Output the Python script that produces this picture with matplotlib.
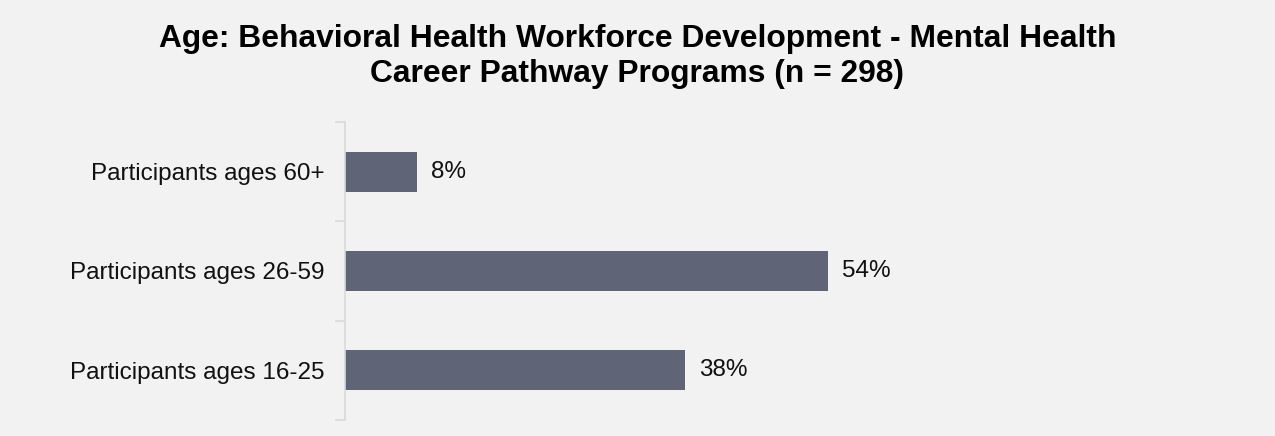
import matplotlib.pyplot as plt

plt.rcParams['font.family'] = ['Liberation Sans', 'DejaVu Sans']

# data
categories = ["Participants ages 16-25", "Participants ages 26-59", "Participants ages 60+"]
values = [38, 54, 8]
title = "Age: Behavioral Health Workforce Development - Mental Health\nCareer Pathway Programs (n = 298)"

bg = "#F2F2F2"
bar_color = "#5F6476"
line_color = "#D9D9D9"

fig = plt.figure(figsize=(12.75, 4.36), dpi=100, facecolor=bg)
ax = fig.add_axes([0.2706, 0.0367, 0.7012, 0.6835], facecolor=bg)

pos = range(len(categories))
ax.barh(pos, values, height=0.4, color=bar_color)
for p, v in zip(pos, values):
    ax.text(v + 1.6, p, f"{v}%", va="center", ha="left", fontsize=17.5, color="#111111")

ax.set_xlim(0, 100)
ax.set_ylim(-0.5, len(categories) - 0.5)
ax.set_yticks(list(pos))
ax.set_yticklabels(categories, fontsize=17.5, color="#111111")
ax.set_yticks([-0.5, 0.5, 1.5, 2.5], minor=True)
ax.tick_params(axis="y", which="major", length=0, pad=14.5)
ax.tick_params(axis="y", which="minor", length=7, color=line_color, width=1.2)
ax.set_xticks([])
for s in ["top", "right", "bottom"]:
    ax.spines[s].set_visible(False)
ax.spines["left"].set_color(line_color)
ax.spines["left"].set_linewidth(1.2)

fig.text(0.5, 0.945, title, ha="center", va="top", fontsize=22.9, fontweight="bold",
         linespacing=1.2, color="#000000")

fig.savefig("out.png", dpi=100, facecolor=bg)
